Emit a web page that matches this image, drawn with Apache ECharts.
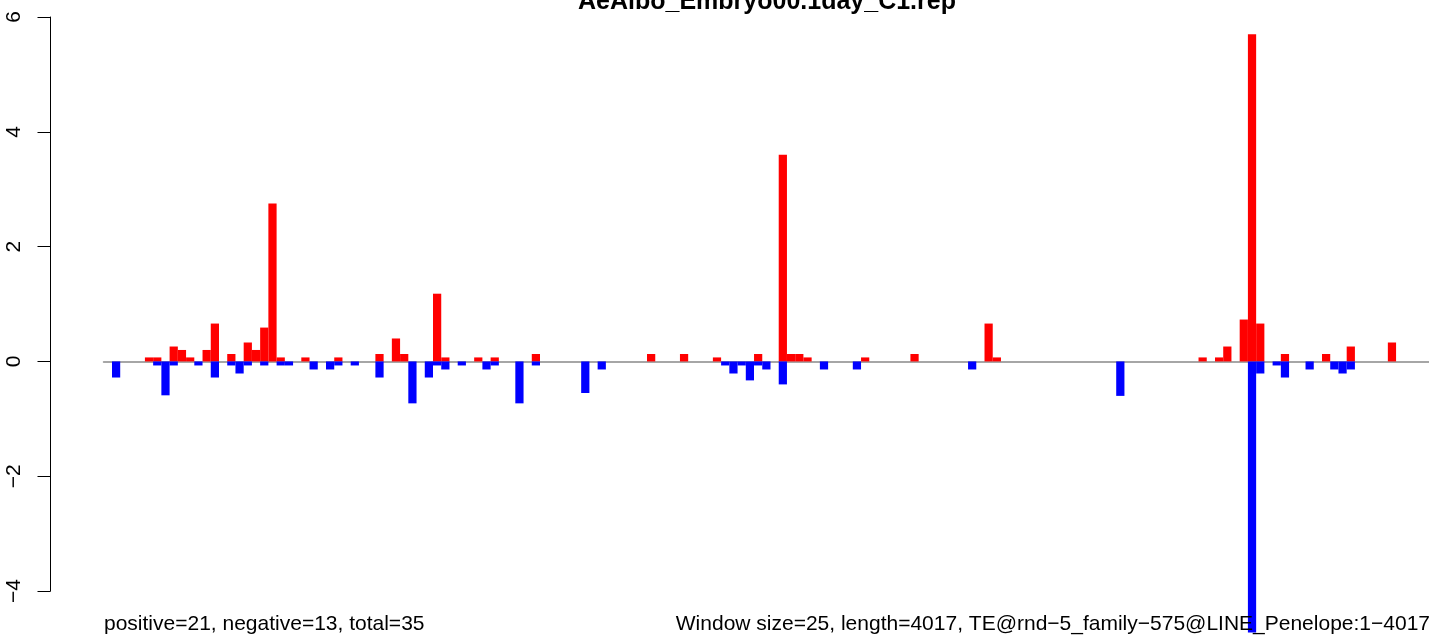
<!DOCTYPE html>
<html>
<head>
<meta charset="utf-8">
<script src="https://cdn.jsdelivr.net/npm/echarts@6/dist/echarts.min.js"></script>
<style>
html,body{margin:0;padding:0;background:#fff;}
#c{width:1429px;height:637px;}
</style>
</head>
<body>
<div id="c"></div>
<script>
// ---- data ----
const titleText = 'AeAlbo_Embryo00.1day_C1.rep';
const leftNote = 'positive=21, negative=13, total=35';
const rightNote = 'Window size=25, length=4017, TE@rnd\u22125_family\u2212575@LINE_Penelope:1\u22124017';
const windowCount = 161; // ceil(4017 / 25)

// positive (red) windows and their values
const posWindows = [5, 6, 8, 9, 10, 12, 13, 15, 17, 18, 19, 20, 21, 24, 28, 33, 35, 36, 40, 41, 45, 47, 52, 66, 70, 74, 79, 82, 83, 84, 85, 92, 98, 107, 108, 133, 135, 136, 138, 139, 140, 143, 148, 151, 156];
const posValues  = [0.07, 0.07, 0.26, 0.2, 0.07, 0.2, 0.66, 0.13, 0.33, 0.2, 0.59, 2.75, 0.07, 0.07, 0.07, 0.13, 0.4, 0.13, 1.18, 0.07, 0.07, 0.07, 0.13, 0.13, 0.13, 0.07, 0.13, 3.6, 0.13, 0.13, 0.07, 0.07, 0.13, 0.66, 0.07, 0.07, 0.07, 0.26, 0.73, 5.7, 0.66, 0.13, 0.13, 0.26, 0.33];

// negative (blue) windows and their values
const negWindows = [1, 6, 7, 8, 11, 13, 15, 16, 17, 19, 21, 22, 25, 27, 28, 30, 33, 37, 39, 40, 41, 43, 46, 47, 50, 52, 58, 60, 75, 76, 77, 78, 79, 80, 82, 87, 91, 105, 123, 139, 140, 142, 143, 146, 149, 150, 151];
const negValues  = [-0.28, -0.07, -0.59, -0.07, -0.07, -0.28, -0.07, -0.21, -0.07, -0.07, -0.07, -0.07, -0.14, -0.14, -0.07, -0.07, -0.28, -0.73, -0.28, -0.07, -0.14, -0.07, -0.14, -0.07, -0.73, -0.07, -0.55, -0.14, -0.07, -0.21, -0.07, -0.33, -0.07, -0.14, -0.4, -0.14, -0.14, -0.14, -0.6, -4.72, -0.21, -0.07, -0.28, -0.14, -0.14, -0.21, -0.14];

const yTicks = {min: -4, max: 6, step: 2};

// ---- build ----
const categories = [];
for (let i = 0; i < windowCount; i++) categories.push(String(i));
const posData = new Array(windowCount).fill(null);
posWindows.forEach((w, k) => { posData[w] = posValues[k]; });
const negData = new Array(windowCount).fill(null);
negWindows.forEach((w, k) => { negData[w] = negValues[k]; });

const FONT = '"Liberation Sans", Arial, Helvetica, sans-serif';
const chart = echarts.init(document.getElementById('c'), null, {renderer: 'canvas'});

chart.setOption({
  animation: false,
  backgroundColor: '#ffffff',
  grid: [
    {left: 103.75, right: -2.2, top: 17, bottom: 0, containLabel: false},
    {left: 50.5, width: 1, top: 17, height: 574, containLabel: false}
  ],
  xAxis: [
    {
      type: 'category', gridIndex: 0, data: categories,
      axisLine: {show: true, onZero: true, lineStyle: {color: '#a6a6a6', width: 2}},
      axisTick: {show: false}, axisLabel: {show: false}, splitLine: {show: false}
    },
    {type: 'value', gridIndex: 1, show: false, min: 0, max: 1}
  ],
  yAxis: [
    {type: 'value', gridIndex: 0, min: -4.8, max: 6, show: false, splitLine: {show: false}},
    {
      type: 'value', gridIndex: 1, min: yTicks.min, max: yTicks.max, interval: yTicks.step,
      axisLine: {show: true, lineStyle: {color: '#000', width: 1}},
      axisTick: {show: true, length: 13, lineStyle: {color: '#000', width: 1}},
      axisLabel: {
        show: true, rotate: 90, margin: 26, color: '#000', fontSize: 21, fontFamily: FONT,
        showMinLabel: true, showMaxLabel: true,
        formatter: v => (v < 0 ? '\u2212' + Math.abs(v) : String(v))
      },
      splitLine: {show: false}
    }
  ],
  series: [
    {
      type: 'bar', xAxisIndex: 0, yAxisIndex: 0, data: posData,
      barGap: '-100%', barCategoryGap: '0%',
      itemStyle: {color: '#ff0000'}, z: 3
    },
    {
      type: 'bar', xAxisIndex: 0, yAxisIndex: 0, data: negData,
      barGap: '-100%', barCategoryGap: '0%',
      itemStyle: {color: '#0000ff'}, z: 3
    },
    {type: 'scatter', xAxisIndex: 1, yAxisIndex: 1, data: [], silent: true}
  ],
  graphic: [
    {
      type: 'text', x: 767, y: 2, z: 10,
      style: {text: titleText, fontSize: 25, fontWeight: 'bold', fontFamily: FONT, fill: '#000', align: 'center', verticalAlign: 'middle'}
    },
    {
      type: 'text', x: 104, y: 624, z: 10,
      style: {text: leftNote, fontSize: 21, fontFamily: FONT, fill: '#000', align: 'left', verticalAlign: 'middle'}
    },
    {
      type: 'text', x: 1430, y: 624, z: 10,
      style: {text: rightNote, fontSize: 21, fontFamily: FONT, fill: '#000', align: 'right', verticalAlign: 'middle'}
    }
  ]
});
</script>
</body>
</html>
